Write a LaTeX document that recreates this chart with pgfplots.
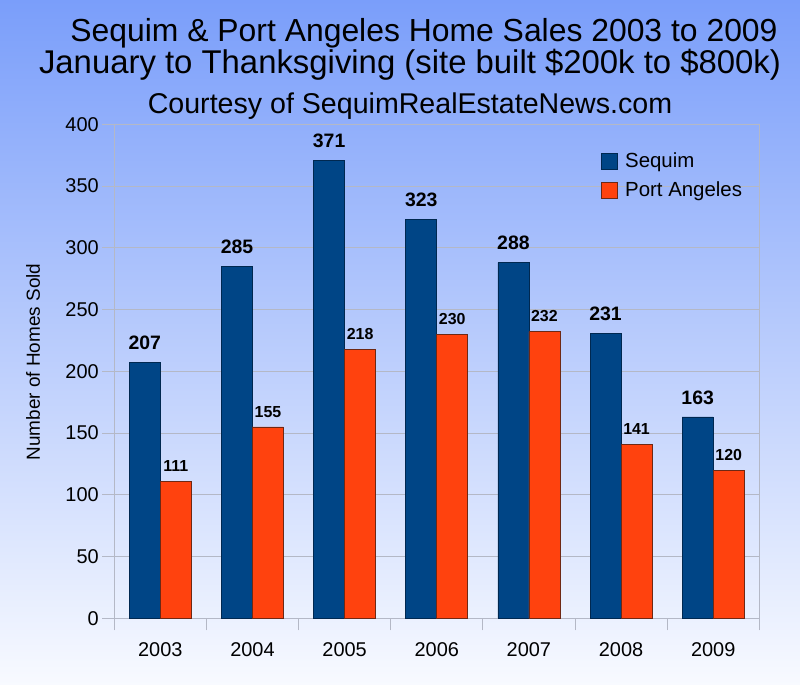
\documentclass[border=0pt]{standalone}
\usepackage{pgfplots}
\pgfplotsset{compat=1.18}
\usepackage{fontspec}
\setmainfont{Liberation Sans}
\definecolor{seq}{RGB}{0,69,134}
\definecolor{seqd}{RGB}{0,40,80}
\definecolor{pa}{RGB}{255,66,14}
\definecolor{pad}{RGB}{110,40,20}
\definecolor{bgtop}{RGB}{122,158,250}
\definecolor{bgbot}{RGB}{248,250,255}
\definecolor{gridc}{RGB}{180,184,198}
\begin{document}
\begin{tikzpicture}[x=1bp,y=1bp]
\shade[top color=bgtop,bottom color=bgbot] (0,0) rectangle (800,685);
\useasboundingbox (0,0) rectangle (800,685);
\node[font=\fontsize{32}{34}\selectfont] at (424,652) {Sequim \& Port Angeles Home Sales 2003 to 2009};
\node[font=\fontsize{33}{35}\selectfont] at (410,620) {January to Thanksgiving (site built \$200k to \$800k)};
\node[font=\fontsize{28.7}{30}\selectfont] at (410,579) {Courtesy of SequimRealEstateNews.com};
\node[rotate=90,font=\fontsize{19}{19}\selectfont] at (33,323) {Number of Homes Sold};
\begin{axis}[
  at={(124,54)}, anchor=south west,
  scale only axis, width=645bp, height=494bp,
  ybar=0pt, bar width=31bp,
  xmin=-0.5, xmax=6.5, ymin=0, ymax=400,
  xtick={-0.5,0.5,1.5,2.5,3.5,4.5,5.5,6.5},
  x tick label as interval,
  xticklabels={2003,2004,2005,2006,2007,2008,2009},
  ytick={0,50,...,400},
  ymajorgrids, grid style={gridc, line width=0.8bp},
  axis line style={gridc, line width=0.8bp},
  tick style={gridc, line width=0.8bp},
  tick align=outside, major tick length=12bp,
  tick pos=left,
  tick label style={font=\fontsize{20}{20}\selectfont},
  xticklabel style={yshift=-9bp},
  /pgf/number format/assume math mode=true,
  legend cell align=left,
  legend style={at={(0.749,0.951)}, anchor=north west, draw=none, fill=none,
    font=\fontsize{20.5}{20.5}\selectfont, row sep=9bp},
  legend image code/.code={\draw[#1,line width=0.6bp] (0bp,-8bp) rectangle (16bp,8bp); \path (22bp,0bp);},
]
\addplot[fill=seq, draw=seqd, line width=0.6bp, nodes near coords,
  every node near coord/.append style={font=\bfseries\fontsize{19.5}{19.5}\selectfont, yshift=9bp, black}]
  coordinates {(0,207) (1,285) (2,371) (3,323) (4,288) (5,231) (6,163)};
\addplot[fill=pa, draw=pad, line width=0.6bp, nodes near coords,
  every node near coord/.append style={font=\bfseries\fontsize{16}{16}\selectfont, yshift=6bp, black}]
  coordinates {(0,111) (1,155) (2,218) (3,230) (4,232) (5,141) (6,120)};
\legend{Sequim, Port Angeles}
\end{axis}
\end{tikzpicture}
\end{document}
